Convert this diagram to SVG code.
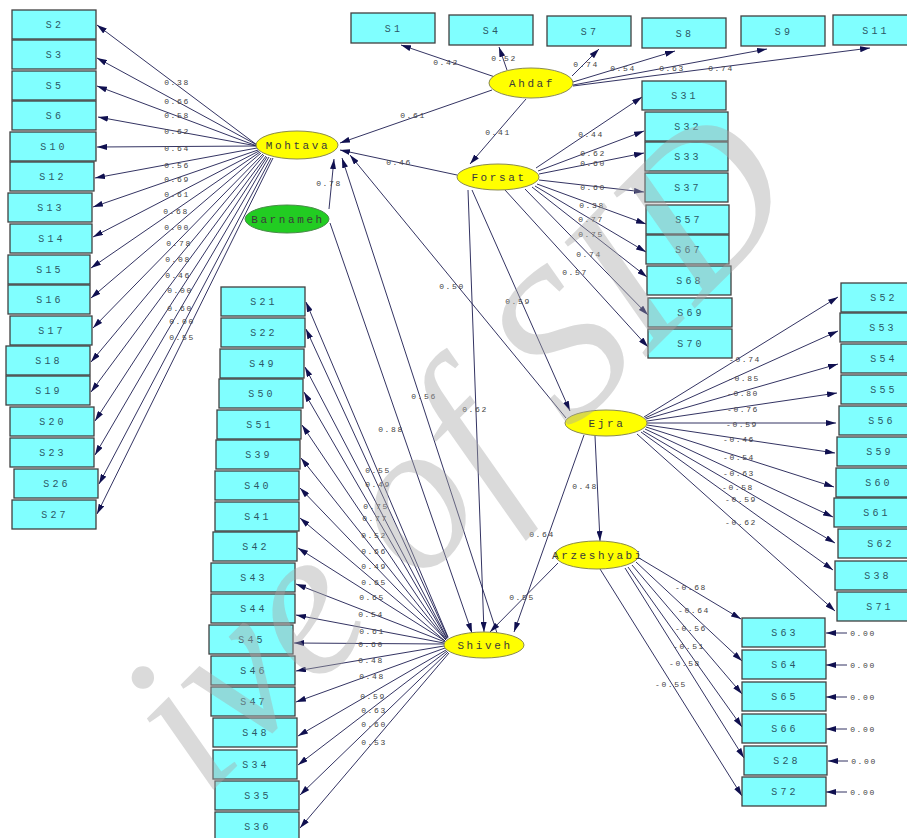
<svg xmlns="http://www.w3.org/2000/svg" width="907" height="838" viewBox="0 0 907 838">
<style>
.b{fill:#80ffff;stroke:#404040;stroke-width:1.3}
.bt{font-family:"Liberation Mono",monospace;font-size:10px;letter-spacing:3.2px;fill:#2c5866;text-anchor:middle}
.lv{fill:#ffff00;stroke:#8a8a50;stroke-width:1}
.gv{fill:#22cc22;stroke:#4a8a4a;stroke-width:1}
.lt{font-family:"Liberation Mono",monospace;font-size:11px;letter-spacing:2.6px;fill:#3a3a3a;text-anchor:middle}
.c line{stroke:#1c1c50;stroke-width:0.9;marker-end:url(#a)}
.n{font-family:"Liberation Mono",monospace;font-size:8px;letter-spacing:1.6px;fill:#444;text-anchor:middle}
.wm{font-family:"Liberation Serif",serif;font-style:italic;font-size:212px;fill:#a8a8a8;fill-opacity:0.42}
</style>
<defs>
<marker id="a" viewBox="0 0 10 6" refX="10" refY="3" markerWidth="10" markerHeight="6" orient="auto" markerUnits="userSpaceOnUse"><path d="M0,0 L10,3 L0,6 z" fill="#101050"/></marker>
</defs>
<rect width="907" height="838" fill="#ffffff"/>

<g id="connectors" class="c">
<line x1="495" y1="77" x2="401" y2="45"/>
<line x1="507" y1="70" x2="499" y2="47"/>
<line x1="572" y1="76" x2="599" y2="49"/>
<line x1="573" y1="82" x2="675" y2="51"/>
<line x1="573" y1="85" x2="767" y2="49"/>
<line x1="573" y1="86" x2="870" y2="48"/>
<line x1="257" y1="145" x2="97" y2="25"/>
<line x1="257" y1="145" x2="97" y2="58"/>
<line x1="257" y1="146" x2="97" y2="86"/>
<line x1="257" y1="146" x2="98" y2="117"/>
<line x1="256" y1="146" x2="97" y2="147"/>
<line x1="257" y1="148" x2="95" y2="178"/>
<line x1="258" y1="150" x2="93" y2="207"/>
<line x1="259" y1="151" x2="93" y2="237"/>
<line x1="260" y1="152" x2="91" y2="268"/>
<line x1="261" y1="153" x2="91" y2="298"/>
<line x1="263" y1="154" x2="93" y2="328"/>
<line x1="264" y1="155" x2="91" y2="362"/>
<line x1="266" y1="156" x2="91" y2="392"/>
<line x1="267" y1="157" x2="95" y2="421"/>
<line x1="269" y1="157" x2="95" y2="455"/>
<line x1="271" y1="158" x2="99" y2="484"/>
<line x1="273" y1="158" x2="97" y2="514"/>
<line x1="536" y1="168" x2="642" y2="97"/>
<line x1="538" y1="171" x2="644" y2="131"/>
<line x1="539" y1="174" x2="644" y2="153"/>
<line x1="539" y1="180" x2="644" y2="192"/>
<line x1="537" y1="184" x2="646" y2="224"/>
<line x1="535" y1="186" x2="646" y2="252"/>
<line x1="532" y1="187" x2="647" y2="277"/>
<line x1="525" y1="189" x2="648" y2="315"/>
<line x1="505" y1="190" x2="648" y2="347"/>
<line x1="644" y1="417" x2="838" y2="297"/>
<line x1="645" y1="418" x2="838" y2="331"/>
<line x1="646" y1="419" x2="838" y2="364"/>
<line x1="647" y1="421" x2="837" y2="393"/>
<line x1="647" y1="423" x2="836" y2="423"/>
<line x1="647" y1="425" x2="835" y2="453"/>
<line x1="646" y1="427" x2="834" y2="487"/>
<line x1="645" y1="429" x2="833" y2="517"/>
<line x1="643" y1="431" x2="835" y2="543"/>
<line x1="641" y1="432" x2="833" y2="570"/>
<line x1="637" y1="434" x2="835" y2="611"/>
<line x1="639" y1="558" x2="741" y2="619"/>
<line x1="636" y1="562" x2="742" y2="661"/>
<line x1="632" y1="565" x2="742" y2="694"/>
<line x1="628" y1="567" x2="742" y2="727"/>
<line x1="625" y1="568" x2="744" y2="758"/>
<line x1="600" y1="569" x2="742" y2="796"/>
<line x1="847" y1="633" x2="826" y2="633"/>
<line x1="847" y1="665" x2="826" y2="665"/>
<line x1="847" y1="697" x2="826" y2="697"/>
<line x1="847" y1="729" x2="826" y2="729"/>
<line x1="848" y1="761" x2="828" y2="761"/>
<line x1="847" y1="792" x2="826" y2="792"/>
<line x1="448" y1="637" x2="306" y2="302"/>
<line x1="448" y1="638" x2="306" y2="329"/>
<line x1="447" y1="638" x2="305" y2="367"/>
<line x1="447" y1="639" x2="304" y2="392"/>
<line x1="446" y1="639" x2="302" y2="425"/>
<line x1="446" y1="640" x2="301" y2="458"/>
<line x1="446" y1="640" x2="300" y2="488"/>
<line x1="445" y1="641" x2="300" y2="518"/>
<line x1="445" y1="641" x2="298" y2="548"/>
<line x1="445" y1="642" x2="296" y2="584"/>
<line x1="444" y1="643" x2="296" y2="615"/>
<line x1="444" y1="644" x2="294" y2="643"/>
<line x1="444" y1="646" x2="296" y2="671"/>
<line x1="445" y1="648" x2="296" y2="702"/>
<line x1="446" y1="650" x2="298" y2="736"/>
<line x1="447" y1="651" x2="298" y2="765"/>
<line x1="448" y1="652" x2="300" y2="795"/>
<line x1="449" y1="653" x2="300" y2="828"/>
<line x1="492" y1="90" x2="340" y2="143"/>
<line x1="526" y1="99" x2="470" y2="164"/>
<line x1="457" y1="175" x2="340" y2="150"/>
<line x1="329" y1="209" x2="334" y2="159"/>
<line x1="566" y1="418" x2="350" y2="155"/>
<line x1="497" y1="633" x2="342" y2="158"/>
<line x1="330" y1="223" x2="472" y2="633"/>
<line x1="468" y1="190" x2="484" y2="632"/>
<line x1="472" y1="190" x2="570" y2="411"/>
<line x1="595" y1="436" x2="600" y2="541"/>
<line x1="584" y1="435" x2="514" y2="632"/>
<line x1="558" y1="563" x2="490" y2="632"/>
</g>

<g id="labels">
<text class="n" x="446" y="65">0.42</text>
<text class="n" x="504" y="61">0.52</text>
<text class="n" x="586" y="67">0.74</text>
<text class="n" x="623" y="71">0.54</text>
<text class="n" x="672" y="71">0.63</text>
<text class="n" x="721" y="71">0.74</text>
<text class="n" x="413" y="118">0.61</text>
<text class="n" x="498" y="135">0.41</text>
<text class="n" x="399" y="165">0.46</text>
<text class="n" x="329" y="186">0.78</text>
<text class="n" x="452" y="289">0.50</text>
<text class="n" x="424" y="399">0.56</text>
<text class="n" x="391" y="432">0.88</text>
<text class="n" x="475" y="412">0.62</text>
<text class="n" x="518" y="304">0.59</text>
<text class="n" x="585" y="489">0.48</text>
<text class="n" x="542" y="537">0.64</text>
<text class="n" x="522" y="600">0.55</text>
<text class="n" x="177" y="85">0.38</text>
<text class="n" x="177" y="104">0.66</text>
<text class="n" x="177" y="118">0.58</text>
<text class="n" x="177" y="134">0.62</text>
<text class="n" x="177" y="151">0.64</text>
<text class="n" x="177" y="168">0.56</text>
<text class="n" x="177" y="182">0.69</text>
<text class="n" x="177" y="197">0.61</text>
<text class="n" x="176" y="214">0.68</text>
<text class="n" x="177" y="230">0.00</text>
<text class="n" x="179" y="246">0.78</text>
<text class="n" x="178" y="262">0.08</text>
<text class="n" x="178" y="278">0.46</text>
<text class="n" x="180" y="293">0.00</text>
<text class="n" x="180" y="311">0.60</text>
<text class="n" x="182" y="324">0.00</text>
<text class="n" x="182" y="340">0.55</text>
<text class="n" x="591" y="137">0.44</text>
<text class="n" x="593" y="156">0.62</text>
<text class="n" x="593" y="166">0.60</text>
<text class="n" x="593" y="190">0.60</text>
<text class="n" x="592" y="208">0.38</text>
<text class="n" x="591" y="222">0.77</text>
<text class="n" x="591" y="237">0.75</text>
<text class="n" x="589" y="257">0.74</text>
<text class="n" x="575" y="275">0.57</text>
<text class="n" x="745" y="362">-0.74</text>
<text class="n" x="744" y="381">-0.85</text>
<text class="n" x="743" y="396">-0.80</text>
<text class="n" x="743" y="412">-0.76</text>
<text class="n" x="742" y="427">-0.59</text>
<text class="n" x="739" y="442">-0.46</text>
<text class="n" x="739" y="460">-0.54</text>
<text class="n" x="739" y="476">-0.63</text>
<text class="n" x="738" y="490">-0.58</text>
<text class="n" x="741" y="502">-0.59</text>
<text class="n" x="741" y="525">-0.62</text>
<text class="n" x="691" y="590">-0.68</text>
<text class="n" x="694" y="613">-0.64</text>
<text class="n" x="691" y="631">-0.56</text>
<text class="n" x="689" y="649">-0.51</text>
<text class="n" x="685" y="666">-0.58</text>
<text class="n" x="671" y="687">-0.55</text>
<text class="n" x="863" y="636">0.00</text>
<text class="n" x="863" y="668">0.00</text>
<text class="n" x="863" y="700">0.00</text>
<text class="n" x="863" y="732">0.00</text>
<text class="n" x="864" y="764">0.00</text>
<text class="n" x="863" y="795">0.00</text>
<text class="n" x="378" y="473">0.55</text>
<text class="n" x="378" y="487">0.49</text>
<text class="n" x="376" y="509">0.75</text>
<text class="n" x="375" y="521">0.77</text>
<text class="n" x="374" y="538">0.52</text>
<text class="n" x="374" y="554">0.66</text>
<text class="n" x="374" y="569">0.49</text>
<text class="n" x="374" y="585">0.65</text>
<text class="n" x="372" y="600">0.65</text>
<text class="n" x="371" y="617">0.54</text>
<text class="n" x="372" y="634">0.61</text>
<text class="n" x="371" y="647">0.60</text>
<text class="n" x="371" y="663">0.48</text>
<text class="n" x="372" y="679">0.48</text>
<text class="n" x="373" y="699">0.59</text>
<text class="n" x="374" y="713">0.63</text>
<text class="n" x="374" y="727">0.60</text>
<text class="n" x="374" y="745">0.53</text>
</g>

<g id="latent">
<g id="Ahdaf"><ellipse class="lv" cx="531" cy="83" rx="42" ry="15"/><text class="lt" x="532" y="87">Ahdaf</text></g>
<g id="Mohtava"><ellipse class="lv" cx="297" cy="145" rx="41" ry="14"/><text class="lt" x="298" y="149">Mohtava</text></g>
<g id="Forsat"><ellipse class="lv" cx="498" cy="177" rx="41" ry="13"/><text class="lt" x="499" y="181">Forsat</text></g>
<g id="Barnameh"><ellipse class="gv" cx="287" cy="219" rx="42" ry="14"/><text class="lt" x="288" y="223">Barnameh</text></g>
<g id="Ejra"><ellipse class="lv" cx="606" cy="423" rx="41" ry="13"/><text class="lt" x="607" y="427">Ejra</text></g>
<g id="Arzeshyabi"><ellipse class="lv" cx="597" cy="555" rx="42" ry="14"/><text class="lt" x="598" y="559">Arzeshyabi</text></g>
<g id="Shiveh"><ellipse class="lv" cx="484" cy="645" rx="40" ry="13"/><text class="lt" x="485" y="649">Shiveh</text></g>
</g>

<g id="observed">
<g id="S1"><rect class="b" x="351" y="13" width="84" height="30"/><text class="bt" x="394" y="32">S1</text></g>
<g id="S4"><rect class="b" x="449" y="15" width="84" height="30"/><text class="bt" x="492" y="34">S4</text></g>
<g id="S7"><rect class="b" x="547" y="16" width="84" height="30"/><text class="bt" x="590" y="35">S7</text></g>
<g id="S8"><rect class="b" x="642" y="18" width="84" height="30"/><text class="bt" x="685" y="37">S8</text></g>
<g id="S9"><rect class="b" x="741" y="16" width="84" height="30"/><text class="bt" x="784" y="35">S9</text></g>
<g id="S11"><rect class="b" x="833" y="15" width="84" height="30"/><text class="bt" x="876" y="34">S11</text></g>

<g id="S2"><rect class="b" x="12" y="10" width="84" height="29"/><text class="bt" x="55" y="28">S2</text></g>
<g id="S3"><rect class="b" x="12" y="40" width="84" height="29"/><text class="bt" x="55" y="58">S3</text></g>
<g id="S5"><rect class="b" x="12" y="71" width="84" height="29"/><text class="bt" x="55" y="89">S5</text></g>
<g id="S6"><rect class="b" x="12" y="101" width="84" height="29"/><text class="bt" x="55" y="119">S6</text></g>
<g id="S10"><rect class="b" x="10" y="132" width="86" height="29"/><text class="bt" x="54" y="150">S10</text></g>
<g id="S12"><rect class="b" x="10" y="162" width="84" height="29"/><text class="bt" x="53" y="180">S12</text></g>
<g id="S13"><rect class="b" x="8" y="193" width="84" height="29"/><text class="bt" x="51" y="211">S13</text></g>
<g id="S14"><rect class="b" x="10" y="224" width="82" height="29"/><text class="bt" x="52" y="242">S14</text></g>
<g id="S15"><rect class="b" x="8" y="255" width="82" height="29"/><text class="bt" x="50" y="273">S15</text></g>
<g id="S16"><rect class="b" x="8" y="285" width="82" height="29"/><text class="bt" x="50" y="303">S16</text></g>
<g id="S17"><rect class="b" x="10" y="316" width="82" height="29"/><text class="bt" x="52" y="334">S17</text></g>
<g id="S18"><rect class="b" x="6" y="346" width="84" height="29"/><text class="bt" x="49" y="364">S18</text></g>
<g id="S19"><rect class="b" x="6" y="376" width="84" height="29"/><text class="bt" x="49" y="394">S19</text></g>
<g id="S20"><rect class="b" x="10" y="407" width="84" height="29"/><text class="bt" x="53" y="425">S20</text></g>
<g id="S23"><rect class="b" x="10" y="438" width="84" height="29"/><text class="bt" x="53" y="456">S23</text></g>
<g id="S26"><rect class="b" x="14" y="469" width="84" height="29"/><text class="bt" x="57" y="487">S26</text></g>
<g id="S27"><rect class="b" x="12" y="500" width="84" height="29"/><text class="bt" x="55" y="518">S27</text></g>

<g id="S31"><rect class="b" x="642" y="81" width="84" height="29"/><text class="bt" x="685" y="99">S31</text></g>
<g id="S32"><rect class="b" x="645" y="112" width="83" height="29"/><text class="bt" x="688" y="130">S32</text></g>
<g id="S33"><rect class="b" x="645" y="142" width="83" height="29"/><text class="bt" x="688" y="160">S33</text></g>
<g id="S37"><rect class="b" x="645" y="173" width="83" height="29"/><text class="bt" x="688" y="191">S37</text></g>
<g id="S57"><rect class="b" x="646" y="205" width="83" height="29"/><text class="bt" x="689" y="223">S57</text></g>
<g id="S67"><rect class="b" x="646" y="235" width="83" height="29"/><text class="bt" x="689" y="253">S67</text></g>
<g id="S68"><rect class="b" x="647" y="266" width="84" height="29"/><text class="bt" x="690" y="284">S68</text></g>
<g id="S69"><rect class="b" x="648" y="298" width="84" height="29"/><text class="bt" x="691" y="316">S69</text></g>
<g id="S70"><rect class="b" x="648" y="329" width="84" height="29"/><text class="bt" x="691" y="347">S70</text></g>

<g id="S52"><rect class="b" x="841" y="283" width="84" height="29"/><text class="bt" x="884" y="301">S52</text></g>
<g id="S53"><rect class="b" x="840" y="313" width="84" height="29"/><text class="bt" x="883" y="331">S53</text></g>
<g id="S54"><rect class="b" x="841" y="344" width="84" height="29"/><text class="bt" x="884" y="362">S54</text></g>
<g id="S55"><rect class="b" x="841" y="375" width="84" height="29"/><text class="bt" x="884" y="393">S55</text></g>
<g id="S56"><rect class="b" x="839" y="406" width="84" height="29"/><text class="bt" x="882" y="424">S56</text></g>
<g id="S59"><rect class="b" x="837" y="437" width="84" height="29"/><text class="bt" x="880" y="455">S59</text></g>
<g id="S60"><rect class="b" x="836" y="468" width="84" height="29"/><text class="bt" x="879" y="486">S60</text></g>
<g id="S61"><rect class="b" x="834" y="498" width="84" height="29"/><text class="bt" x="877" y="516">S61</text></g>
<g id="S62"><rect class="b" x="838" y="529" width="84" height="29"/><text class="bt" x="881" y="547">S62</text></g>
<g id="S38"><rect class="b" x="835" y="561" width="84" height="29"/><text class="bt" x="878" y="579">S38</text></g>
<g id="S71"><rect class="b" x="837" y="592" width="84" height="29"/><text class="bt" x="880" y="610">S71</text></g>

<g id="S63"><rect class="b" x="742" y="618" width="83" height="29"/><text class="bt" x="785" y="636">S63</text></g>
<g id="S64"><rect class="b" x="742" y="650" width="84" height="29"/><text class="bt" x="785" y="668">S64</text></g>
<g id="S65"><rect class="b" x="742" y="682" width="84" height="29"/><text class="bt" x="785" y="700">S65</text></g>
<g id="S66"><rect class="b" x="742" y="714" width="84" height="29"/><text class="bt" x="785" y="732">S66</text></g>
<g id="S28"><rect class="b" x="744" y="746" width="83" height="29"/><text class="bt" x="787" y="764">S28</text></g>
<g id="S72"><rect class="b" x="742" y="777" width="84" height="29"/><text class="bt" x="785" y="795">S72</text></g>

<g id="S21"><rect class="b" x="221" y="287" width="84" height="29"/><text class="bt" x="264" y="305">S21</text></g>
<g id="S22"><rect class="b" x="221" y="318" width="84" height="29"/><text class="bt" x="264" y="336">S22</text></g>
<g id="S49"><rect class="b" x="220" y="349" width="84" height="29"/><text class="bt" x="263" y="367">S49</text></g>
<g id="S50"><rect class="b" x="219" y="379" width="84" height="29"/><text class="bt" x="262" y="397">S50</text></g>
<g id="S51"><rect class="b" x="217" y="410" width="84" height="29"/><text class="bt" x="260" y="428">S51</text></g>
<g id="S39"><rect class="b" x="216" y="440" width="84" height="29"/><text class="bt" x="259" y="458">S39</text></g>
<g id="S40"><rect class="b" x="215" y="471" width="84" height="29"/><text class="bt" x="258" y="489">S40</text></g>
<g id="S41"><rect class="b" x="215" y="502" width="84" height="29"/><text class="bt" x="258" y="520">S41</text></g>
<g id="S42"><rect class="b" x="213" y="532" width="84" height="29"/><text class="bt" x="256" y="550">S42</text></g>
<g id="S43"><rect class="b" x="211" y="563" width="84" height="29"/><text class="bt" x="254" y="581">S43</text></g>
<g id="S44"><rect class="b" x="211" y="594" width="84" height="29"/><text class="bt" x="254" y="612">S44</text></g>
<g id="S45"><rect class="b" x="209" y="625" width="84" height="29"/><text class="bt" x="252" y="643">S45</text></g>
<g id="S46"><rect class="b" x="211" y="656" width="84" height="29"/><text class="bt" x="254" y="674">S46</text></g>
<g id="S47"><rect class="b" x="211" y="687" width="84" height="29"/><text class="bt" x="254" y="705">S47</text></g>
<g id="S48"><rect class="b" x="213" y="718" width="84" height="29"/><text class="bt" x="256" y="736">S48</text></g>
<g id="S34"><rect class="b" x="213" y="750" width="84" height="29"/><text class="bt" x="256" y="768">S34</text></g>
<g id="S35"><rect class="b" x="215" y="781" width="84" height="29"/><text class="bt" x="258" y="799">S35</text></g>
<g id="S36"><rect class="b" x="215" y="812" width="84" height="29"/><text class="bt" x="258" y="830">S36</text></g>
</g>

<text class="wm" transform="translate(205,798) rotate(-45)">ive of SID</text>
</svg>
